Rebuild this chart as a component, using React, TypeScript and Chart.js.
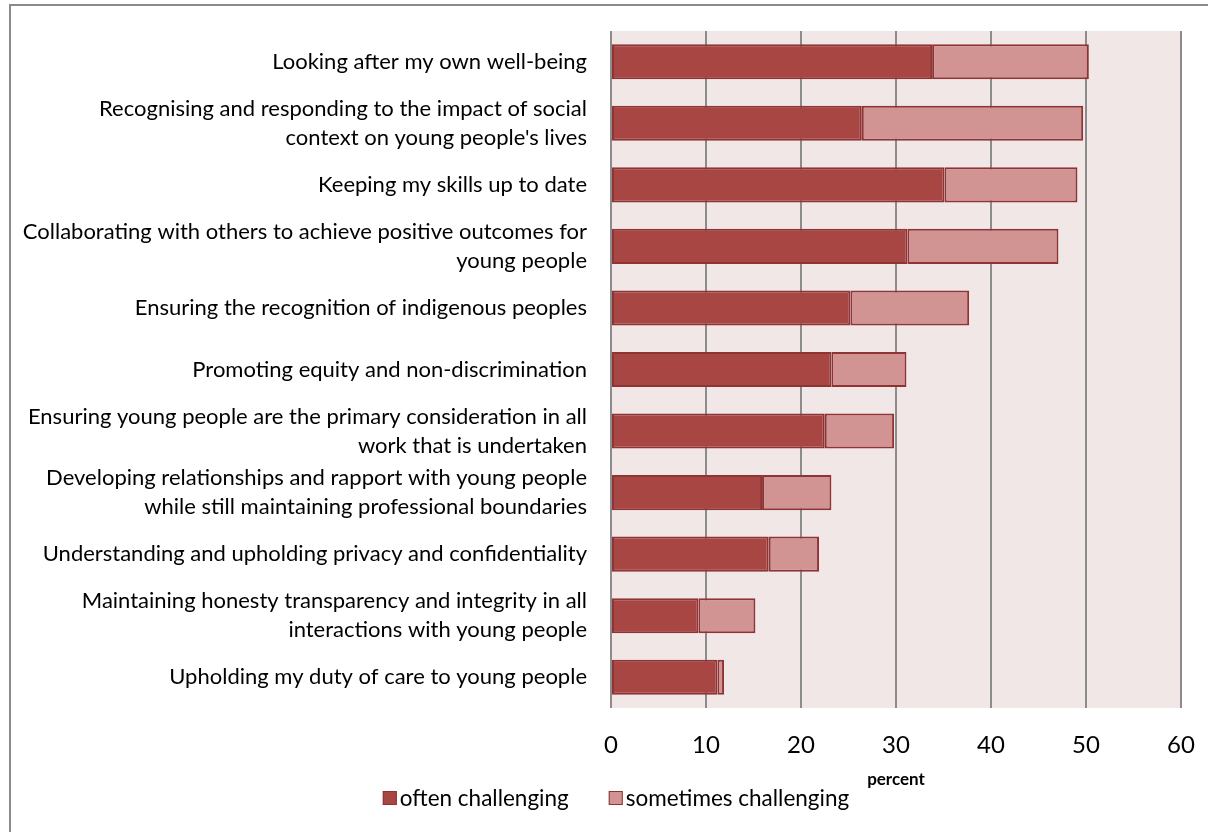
import React, { useEffect, useRef } from "react";
import { Chart, registerables } from "chart.js";

Chart.register(...registerables);

const categories: (string | string[])[] = [
  "Looking after my own well-being",
  ["Recognising and responding to the impact of social", "context on young people's lives"],
  "Keeping my skills up to date",
  ["Collaborating with others to achieve positive outcomes for", "young people"],
  "Ensuring the recognition of indigenous peoples",
  "Promoting equity and non-discrimination",
  ["Ensuring young people are the primary consideration in all", "work that is undertaken"],
  ["Developing relationships and rapport with young people", "while still maintaining professional boundaries"],
  "Understanding and upholding privacy and confidentiality",
  ["Maintaining honesty transparency and integrity in all", "interactions with young people"],
  "Upholding my duty of care to young people",
];

const oftenChallenging = [33.8, 26.4, 35.1, 31.2, 25.2, 23.2, 22.5, 15.9, 16.6, 9.2, 11.2];
const sometimesChallenging = [16.5, 23.3, 14.0, 15.9, 12.5, 7.9, 7.3, 7.3, 5.3, 6.0, 0.7];

const seriesNames = ["often challenging", "sometimes challenging"];
const xTicks = [0, 10, 20, 30, 40, 50, 60];
const axisTitle = "percent";

const FONT = "Lato, 'Open Sans', sans-serif";
const OFTEN_FILL = "#A84644";
const SOME_FILL = "#D29393";
const BAR_BORDER = "#8E3434";

export default function App() {
  const ref = useRef<HTMLCanvasElement | null>(null);

  useEffect(() => {
    if (!ref.current) return;
    const bgPlugin = {
      id: "plotBg",
      beforeDraw(chart: any) {
        const { ctx, chartArea } = chart;
        ctx.save();
        ctx.fillStyle = "#F2E7E7";
        ctx.fillRect(chartArea.left, chartArea.top, chartArea.right - chartArea.left, chartArea.bottom - chartArea.top);
        ctx.restore();
      },
    };
    const legendPlugin = {
      id: "customLegend",
      afterDraw(chart: any) {
        const { ctx } = chart;
        ctx.save();
        ctx.font = `22.5px ${FONT}`;
        ctx.textBaseline = "middle";
        const y = 798;
        const fills = [OFTEN_FILL, SOME_FILL];
        const gap = 40;
        const box = 14;
        const widths = seriesNames.map((n) => box + 3 + ctx.measureText(n).width);
        const total = widths.reduce((a, b) => a + b, 0) + gap;
        let x = 616 - total / 2;
        seriesNames.forEach((n, i) => {
          ctx.fillStyle = fills[i];
          ctx.fillRect(x, y - box / 2, box, box);
          ctx.strokeStyle = BAR_BORDER;
          ctx.lineWidth = 1;
          ctx.strokeRect(x + 0.5, y - box / 2 + 0.5, box - 1, box - 1);
          ctx.fillStyle = "#000";
          ctx.fillText(n, x + box + 3, y + 1);
          x += widths[i] + gap;
        });
        ctx.restore();
      },
    };
    const chart = new Chart(ref.current, {
      type: "bar",
      data: {
        labels: categories,
        datasets: [
          {
            label: seriesNames[0],
            data: oftenChallenging,
            backgroundColor: OFTEN_FILL,
            borderColor: BAR_BORDER,
            borderWidth: 2,
            borderSkipped: false,
            barPercentage: 0.57,
            categoryPercentage: 1,
          },
          {
            label: seriesNames[1],
            data: sometimesChallenging,
            backgroundColor: SOME_FILL,
            borderColor: BAR_BORDER,
            borderWidth: 2,
            borderSkipped: false,
            barPercentage: 0.57,
            categoryPercentage: 1,
          },
        ],
      },
      options: {
        indexAxis: "y",
        animation: false,
        responsive: false,
        maintainAspectRatio: false,
        layout: { padding: { left: 0, top: 31, right: 27, bottom: 42 } },
        plugins: {
          legend: { display: false },
          tooltip: { enabled: false },
          title: { display: false },
        },
        scales: {
          x: {
            stacked: true,
            min: 0,
            max: 60,
            afterBuildTicks(scale: any) {
              scale.ticks = xTicks.map((v) => ({ value: v }));
            },
            afterFit(scale: any) {
              scale.height = 82;
              scale.paddingLeft = 0;
              scale.paddingRight = 0;
            },
            grid: { color: "#8C8C8C", lineWidth: 2, drawTicks: false },
            border: { display: false },
            ticks: { color: "#000", font: { family: FONT, size: 24 }, padding: 23 },
            title: {
              display: true,
              text: axisTitle,
              color: "#000",
              font: { family: FONT, size: 17, weight: "bold" },
              padding: { top: 0, bottom: 0 },
            },
          },
          y: {
            stacked: true,
            afterFit(scale: any) {
              scale.width = 611;
              scale.paddingTop = 0;
              scale.paddingBottom = 0;
            },
            grid: { display: false, drawTicks: false },
            border: { display: false },
            ticks: {
              color: "#000",
              font: { family: FONT, size: 22, lineHeight: 1.32 },
              padding: 24,
              autoSkip: false,
            },
          },
        },
      },
      plugins: [bgPlugin, legendPlugin],
    } as any);
    return () => chart.destroy();
  }, []);

  return (
    <div style={{ position: "fixed", left: 0, top: 0, width: 1208, height: 832, overflow: "hidden", background: "#fff" }}>
      <div
        style={{
          position: "absolute",
          left: 9,
          top: 4,
          width: 1300,
          height: 900,
          borderLeft: "2px solid #8A8A8A",
          borderTop: "2px solid #8A8A8A",
        }}
      />
      <canvas ref={ref} width={1208} height={832} style={{ position: "absolute", left: 0, top: 0, width: 1208, height: 832 }} />
    </div>
  );
}
